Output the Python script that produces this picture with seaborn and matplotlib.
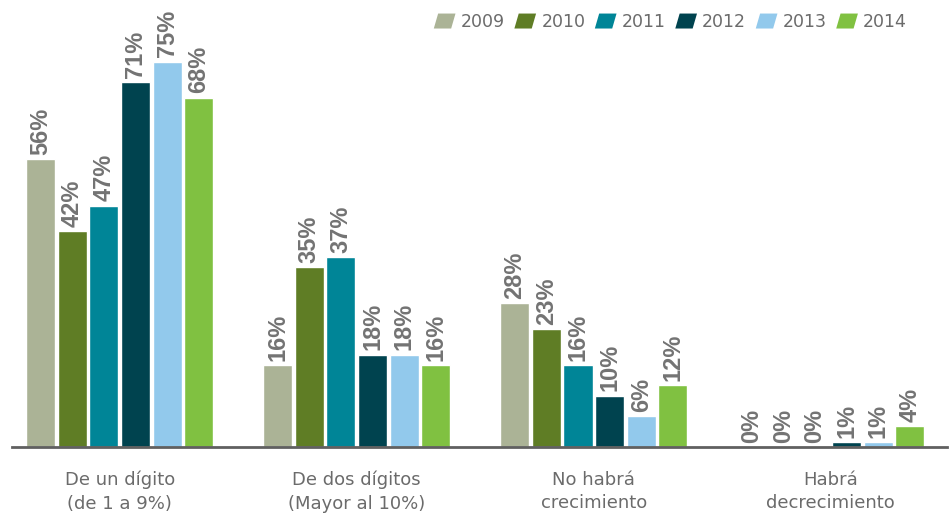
import matplotlib
matplotlib.use("Agg")
import matplotlib.pyplot as plt
import seaborn as sns
import pandas as pd
from matplotlib.patches import Polygon, Patch
from matplotlib.legend_handler import HandlerPatch

categories = ["De un dígito\n(de 1 a 9%)", "De dos dígitos\n(Mayor al 10%)",
              "No habrá\ncrecimiento", "Habrá\ndecrecimiento"]
years = ["2009", "2010", "2011", "2012", "2013", "2014"]
v2009 = [56, 16, 28, 0]
v2010 = [42, 35, 23, 0]
v2011 = [47, 37, 16, 0]
v2012 = [71, 18, 10, 1]
v2013 = [75, 18, 6, 1]
v2014 = [68, 16, 12, 4]
colors = ["#abb396", "#5f7d25", "#008597", "#00434f", "#92c9ec", "#80c141"]

series = [v2009, v2010, v2011, v2012, v2013, v2014]
rows = []
for y, vals in zip(years, series):
    for c, v in zip(categories, vals):
        rows.append({"cat": c, "year": y, "val": v})
df = pd.DataFrame(rows)

sns.set_style("white")
plt.rcParams['font.family'] = ['DejaVu Sans']

fig = plt.figure(figsize=(9.52, 5.15), dpi=100)
ax = fig.add_axes([12/952, 68/515, 935/952, 447/515])

sns.barplot(data=df, x="cat", y="val", hue="year", palette=colors,
            width=0.8, gap=0.08, ax=ax, legend=False, saturation=1)

gray_txt = "#6b6b6b"
for cont, vals in zip(ax.containers, series):
    ax.bar_label(cont, labels=[f"{v}%" for v in vals], rotation=90, padding=3,
                 fontsize=17, fontweight="bold", color="#737373",
                 family="Liberation Sans")

ax.set_xlim(-0.454, 3.49)
ax.set_ylim(0, 87)
ax.set_xlabel("")
ax.set_ylabel("")
ax.set_yticks([])
for s in ["top", "right", "left"]:
    ax.spines[s].set_visible(False)
ax.spines["bottom"].set_color("#606060")
ax.spines["bottom"].set_linewidth(2)
ax.tick_params(axis="x", length=0, pad=17, labelsize=13, labelcolor=gray_txt)
for t in ax.get_xticklabels():
    t.set_linespacing(1.4)


class ParaHandler(HandlerPatch):
    def create_artists(self, legend, orig_handle, xdescent, ydescent,
                       width, height, fontsize, trans):
        sk = width * 0.2
        x0, y0 = -xdescent, -ydescent
        p = Polygon([[x0 + sk, y0 + height], [x0 + width, y0 + height],
                     [x0 + width - sk, y0], [x0, y0]], closed=True,
                    facecolor=orig_handle.get_facecolor(), edgecolor="none",
                    transform=trans)
        return [p]


handles = [Patch(facecolor=c) for c in colors]
leg = fig.legend(handles, years, loc="upper right",
                 bbox_to_anchor=(907/952, 1 - 13/515),
                 ncol=6, frameon=False, fontsize=12.5, handlelength=1.25,
                 handleheight=0.95, handletextpad=0.3, columnspacing=0.55,
                 borderpad=0, borderaxespad=0,
                 handler_map={Patch: ParaHandler()})
for t in leg.get_texts():
    t.set_color(gray_txt)

fig.savefig("out.png", dpi=100)
